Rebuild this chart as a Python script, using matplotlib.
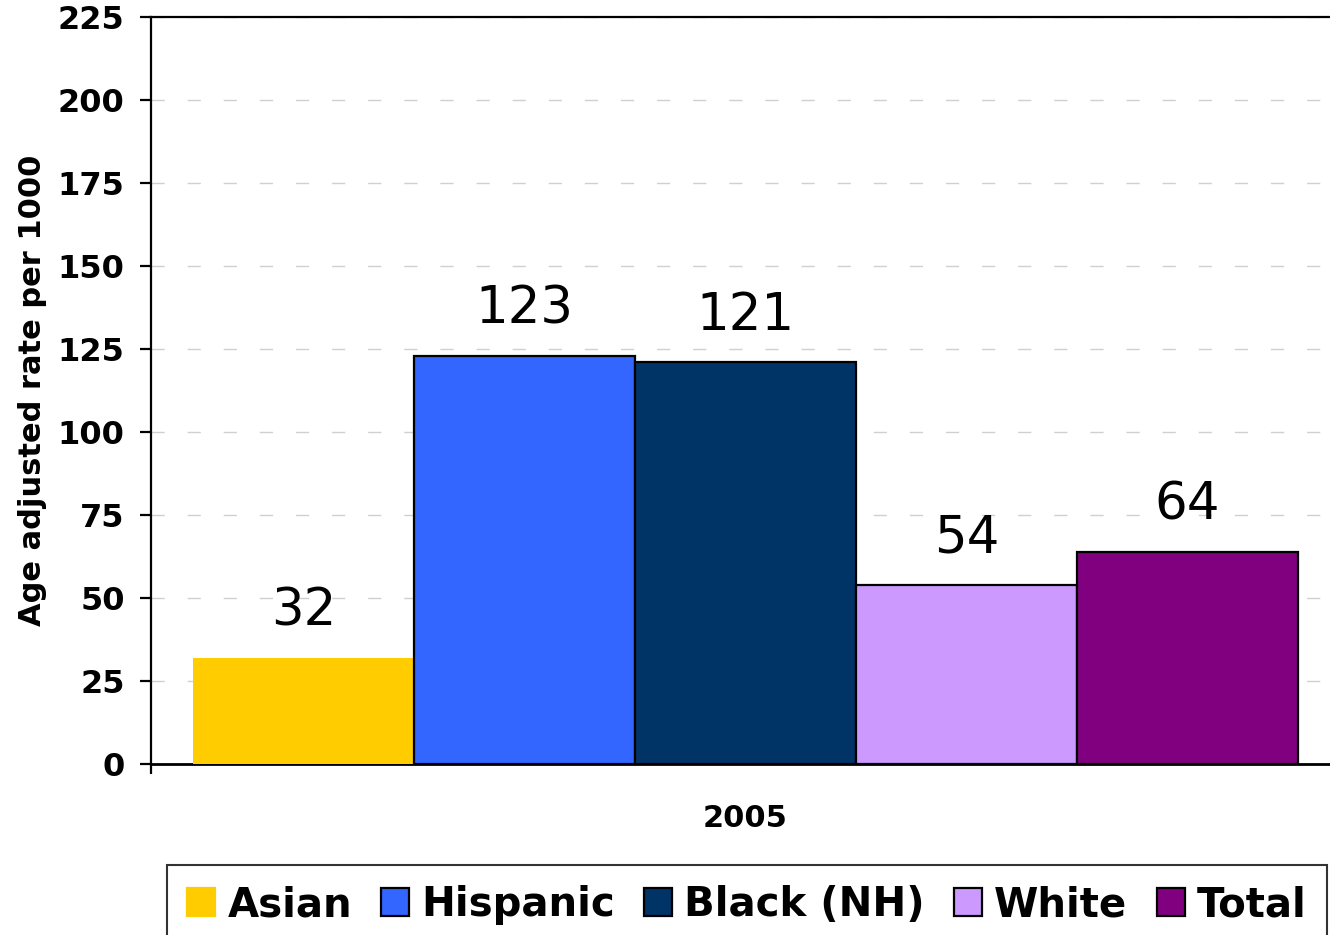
import matplotlib
matplotlib.use("Agg")
import matplotlib.pyplot as plt
from matplotlib.patches import Patch

categories = ["Asian", "Hispanic", "Black (NH)", "White", "Total"]
values = [32, 123, 121, 54, 64]
colors = ["#FFCC00", "#3366FF", "#003366", "#CC99FF", "#800080"]
edges = ["none", "black", "black", "black", "black"]
yticks = [0, 25, 50, 75, 100, 125, 150, 175, 200, 225]
group_label = "2005"
ylabel = "Age adjusted rate per 1000"

W, H = 1330, 935
fig = plt.figure(figsize=(W / 100, H / 100), dpi=100)
plt.rcParams['font.family'] = ['DejaVu Sans']

ax_left = 151 / W
ax_bottom = 1 - 764 / H
ax_top = 1 - 17 / H
ax_w = 1189 / W
ax = fig.add_axes([ax_left, ax_bottom, ax_w, ax_top - ax_bottom])

x = list(range(len(categories)))
bars = ax.bar(x, values, width=1.0, color=colors, edgecolor=edges, linewidth=1.6, zorder=3)

for xi, v in zip(x, values):
    ax.annotate(str(v), xy=(xi, v), xytext=(0, 15), textcoords="offset points",
                ha="center", va="bottom", fontsize=37, color="black")

ax.set_ylim(0, 225)
ax.set_xlim(-0.69, 4.69)
ax.set_yticks(yticks)
ax.set_yticklabels([str(t) for t in yticks], fontsize=23, fontweight="bold")
ax.tick_params(axis="y", direction="out", length=8, width=1.6, pad=11)
ax.set_xticks([-0.69])
ax.set_xticklabels([""])
ax.tick_params(axis="x", direction="out", length=7, width=1.6)
ax.set_xlabel(group_label, fontsize=22, fontweight="bold", labelpad=18)
ax.set_ylabel(ylabel, fontsize=22, fontweight="bold", labelpad=8)

ax.yaxis.grid(True, color="#d0d0d0", linestyle=(0, (9.5, 16.5)), linewidth=1.0, zorder=0)
ax.set_axisbelow(True)

for s in ["left", "top"]:
    ax.spines[s].set_linewidth(1.6)
ax.spines["bottom"].set_linewidth(2.0)
ax.spines["right"].set_visible(False)

handles = [Patch(facecolor=c, edgecolor=e if e != "none" else c, linewidth=1.6) for c, e in zip(colors, edges)]
leg = fig.legend(handles, categories, loc="upper left", bbox_to_anchor=(167 / W, 1 - 865 / H),
                 ncol=5, frameon=True, fancybox=False, edgecolor="black",
                 prop={"weight": "bold", "size": 29}, handlelength=0.7, handleheight=0.7,
                 handletextpad=0.3, columnspacing=0.72, borderpad=0.5, borderaxespad=0)
leg.get_frame().set_linewidth(1.5)

fig.savefig("out.png", dpi=100)
